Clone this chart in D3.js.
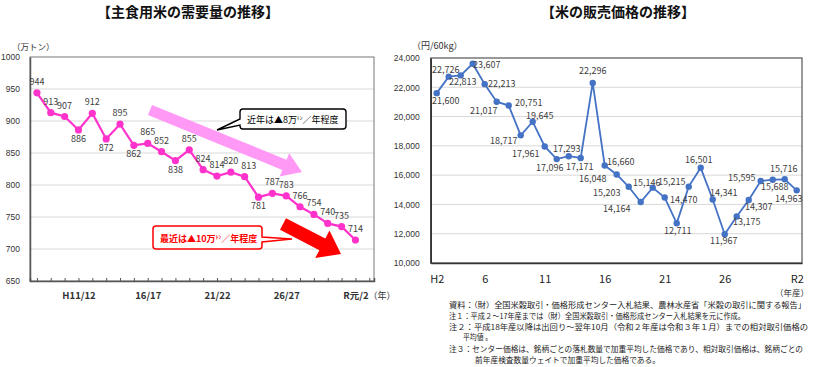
<!DOCTYPE html>
<html>
<head>
<meta charset="UTF-8" />
<script src="https://d3js.org/d3.v7.min.js"></script>
<style>
  body { margin: 0; background: #fff; }
  svg { font-family: "Noto Sans CJK JP", "Noto Sans", sans-serif; }
  .title { font-size: 14px; font-weight: bold; fill: #111; }
  .grid line { stroke: #d9d9d9; stroke-width: 1px; }
  .ytick text { font-size: 8.5px; fill: #333; }
  .lbl { font-size: 9px; fill: #404040; }
  .note { font-size: 7.8px; fill: #222; }
</style>
</head>
<body>
<svg width="820" height="367"></svg>
<script>
// ---- 主食用米の需要量 (万トン), H8/9 .. R元/2
var demand = [944, 913, 907, 886, 912, 872, 895, 862, 865, 852, 838, 855,
              824, 814, 820, 813, 781, 787, 783, 766, 754, 740, 735, 714];
var demandTicks = [3, 8, 13, 18, 23];
var demandTickLabels = ["H11/12", "16/17", "21/22", "26/27", "R元/2"];
var demandBelow = [3, 5, 7, 10, 16]; // labels placed under the point

// ---- 米の販売価格 (円/60kg), H2 .. R2
var price = [21600, 22726, 22813, 23607, 22213, 21017, 20751, 18717, 19645,
             17961, 17096, 17293, 17171, 22296, 16660, 16048, 15203, 14164,
             15146, 14470, 12711, 15215, 16501, 14341, 11967, 13175, 14307,
             15595, 15688, 15716, 14963];
var priceTicks = [0, 4, 9, 14, 19, 24, 30];
var priceTickLabels = ["H2", "6", "11", "16", "21", "26", "R2"];
// label offsets (dx, dy) from each point
var priceLabelOffset = [[9,8],[-3,-7],[2,7],[14,1],[17,0],[-13,9],[20,-3],[-17,6],
  [7,-6],[-19,8],[-7,9],[-2,-7],[-1,9],[0,-12],[16,-3],[-24,5],[-22,6],[-24,7],
  [-6,-5],[19,2],[1,8],[-17,-5],[-2,-8],[11,-6],[-1,7],[10,5],[10,7],[-19,-3],
  [2,7],[-1,-10],[-8,9]];

var notes = [
  {x: 449, w: 357, t: "資料：（財）全国米穀取引・価格形成センター入札結果、農林水産省「米穀の取引に関する報告」"},
  {x: 449, w: 296, t: "注１：平成２～17年産までは（財）全国米穀取引・価格形成センター入札結果を元に作成。"},
  {x: 449, w: 359, t: "注２：平成18年産以降は出回り～翌年10月（令和２年産は令和３年１月）までの相対取引価格の"},
  {x: 463, w: 29, t: "平均値 。"},
  {x: 449, w: 354, t: "注３：センター価格は、銘柄ごとの落札数量で加重平均した価格であり、相対取引価格は、銘柄ごとの"},
  {x: 475, w: 185, t: "前年産検査数量ウェイトで加重平均した価格である。"}
];

var svg = d3.select("svg");

function arrow(x1, y1, x2, y2, sw, hw, hl) {
  var a = Math.atan2(y2 - y1, x2 - x1), L = Math.hypot(x2 - x1, y2 - y1);
  var c = Math.cos(a), s = Math.sin(a);
  var pts = [[0, -sw/2], [L - hl, -sw/2], [L - hl, -hw/2], [L, 0], [L - hl, hw/2], [L - hl, sw/2], [0, sw/2]];
  return pts.map(function (p) { return [x1 + p[0]*c - p[1]*s, y1 + p[0]*s + p[1]*c]; });
}

// =============== left chart ===============
var L = {left: 30, right: 374, top: 57, bottom: 281};
var xL = d3.scaleLinear().domain([-0.5, 24.34]).range([L.left, L.right]);
var yL = d3.scaleLinear().domain([650, 1000]).range([L.bottom, L.top]);

svg.append("text").attr("class", "title").attr("x", 188).attr("y", 17)
  .attr("text-anchor", "middle").text("【主食用米の需要量の推移】");
svg.append("text").attr("x", 12).attr("y", 50).style("font-size", "8.5px").attr("fill", "#333").text("（万トン）");

svg.append("g").attr("class", "grid")
  .selectAll("line").data(d3.range(700, 1000, 50)).join("line")
  .attr("x1", L.left).attr("x2", L.right).attr("y1", yL).attr("y2", yL);
svg.append("rect").attr("x", L.left).attr("y", L.top).attr("width", L.right - L.left)
  .attr("height", L.bottom - L.top).attr("fill", "none").attr("stroke", "#777").attr("stroke-width", 1);

var yAxL = svg.append("g").attr("class", "ytick").attr("transform", "translate(" + L.left + ",0)")
  .call(d3.axisLeft(yL).tickValues(d3.range(650, 1001, 50)).tickSize(0).tickPadding(10)
    .tickFormat(d3.format("d")));
yAxL.select(".domain").attr("stroke", "#555").attr("stroke-width", 1.5);

var xAxL = svg.append("g").attr("transform", "translate(0," + L.bottom + ")")
  .call(d3.axisBottom(xL).tickValues(d3.range(0, 25)).tickSize(-3).tickFormat(""));
xAxL.select(".domain").attr("stroke", "#555").attr("stroke-width", 1.5);
xAxL.selectAll(".tick line").attr("stroke", "#555");

var xLabL = svg.append("g").attr("transform", "translate(0," + L.bottom + ")")
  .call(d3.axisBottom(xL).tickValues(demandTicks).tickSize(0).tickPadding(11)
    .tickFormat(function (d, i) { return demandTickLabels[i]; }));
xLabL.select(".domain").remove();
xLabL.selectAll("text").style("font-size", "9.5px").style("font-weight", "bold").attr("fill", "#333")
  .style("font-family", "'Noto Sans CJK JP', sans-serif");
svg.append("text").attr("x", xL(23) + 13).attr("y", L.bottom + 18).style("font-size", "9px")
  .attr("fill", "#333").text("（年）");

// pink and red arrows
svg.append("polygon").attr("fill", "#ff99f5")
  .attr("points", arrow(150, 110, 302, 172, 11, 25, 19).join(" "));
svg.append("polygon").attr("fill", "#ff0000")
  .attr("points", arrow(283, 224, 341, 254, 13, 31, 21).join(" "));

// line
svg.append("path").datum(demand).attr("fill", "none").attr("stroke", "#ff33cc").attr("stroke-width", 2.2)
  .attr("d", d3.line().x(function (d, i) { return xL(i); }).y(function (d) { return yL(d); }));
svg.append("g").selectAll("circle").data(demand).join("circle")
  .attr("cx", function (d, i) { return xL(i); }).attr("cy", yL).attr("r", 3.6).attr("fill", "#ff33cc");
svg.append("g").selectAll("text").data(demand).join("text").attr("class", "lbl")
  .attr("text-anchor", "middle")
  .attr("x", function (d, i) { return xL(i) + (i === 15 ? 4 : 0); })
  .attr("y", function (d, i) { return yL(d) + (demandBelow.indexOf(i) >= 0 ? 12 : -8); })
  .text(function (d) { return d; });

// callouts
svg.append("path")
  .attr("d", "M243,109 H343 Q346,109 346,112 V126 Q346,129 343,129 H243 Q240,129 240,126 V125 L217,130 L240,119 V112 Q240,109 243,109 Z")
  .attr("fill", "#fff").attr("stroke", "#000").attr("stroke-width", 1.4);
var t1 = svg.append("text").attr("x", 247).attr("y", 123).style("font-size", "9px").attr("fill", "#000");
t1.append("tspan").text("近年は▲8万");
t1.append("tspan").style("font-size", "5.5px").attr("dy", -3).text("ﾄﾝ");
t1.append("tspan").attr("dy", 3).text("／年程度");

svg.append("path")
  .attr("d", "M156,226 H259 Q262,226 262,229 V237 L292,239 L262,242 V246 Q262,249 259,249 H156 Q153,249 153,246 V229 Q153,226 156,226 Z")
  .attr("fill", "#fff").attr("stroke", "#ff0000").attr("stroke-width", 1.5);
var t2 = svg.append("text").attr("x", 160).attr("y", 241.5).style("font-size", "9px")
  .style("font-weight", "bold").attr("fill", "#ff0000");
t2.append("tspan").text("最近は▲10万");
t2.append("tspan").style("font-size", "5.5px").attr("dy", -3).text("ﾄﾝ");
t2.append("tspan").attr("dy", 3).text("／年程度");

// =============== right chart ===============
var R = {left: 430.7, right: 802, top: 58, bottom: 263};
var xR = d3.scaleLinear().domain([-0.5, 30.44]).range([R.left, R.right]);
var yR = d3.scaleLinear().domain([10000, 24000]).range([R.bottom, R.top]);

svg.append("text").attr("class", "title").attr("x", 618).attr("y", 17)
  .attr("text-anchor", "middle").text("【米の販売価格の推移】");
svg.append("text").attr("x", 412).attr("y", 49).style("font-size", "9px").attr("fill", "#333").text("（円/60kg）");

svg.append("g").attr("class", "grid")
  .selectAll("line").data(d3.range(12000, 24000, 2000)).join("line")
  .attr("x1", R.left).attr("x2", R.right).attr("y1", yR).attr("y2", yR);
svg.append("rect").attr("x", R.left).attr("y", R.top).attr("width", R.right - R.left)
  .attr("height", R.bottom - R.top).attr("fill", "none").attr("stroke", "#555").attr("stroke-width", 1.2);

var yAxR = svg.append("g").attr("class", "ytick").attr("transform", "translate(" + R.left + ",0)")
  .call(d3.axisLeft(yR).tickValues(d3.range(10000, 24001, 2000)).tickSize(0).tickPadding(11)
    .tickFormat(d3.format(",")));
yAxR.select(".domain").attr("stroke", "#333").attr("stroke-width", 1.6);
var xAxR = svg.append("g").attr("transform", "translate(0," + R.bottom + ")")
  .call(d3.axisBottom(xR).tickValues(priceTicks).tickSize(0).tickPadding(12)
    .tickFormat(function (d, i) { return priceTickLabels[i]; }));
xAxR.select(".domain").attr("stroke", "#333").attr("stroke-width", 1.6);
xAxR.selectAll("text").style("font-size", "11px").attr("fill", "#222")
  .style("font-family", "'Noto Sans CJK JP', sans-serif");
svg.append("text").attr("x", 792).attr("y", 296).attr("text-anchor", "middle")
  .style("font-size", "8.5px").attr("fill", "#333").text("（年産）");

svg.append("path").datum(price).attr("fill", "none").attr("stroke", "#4472c4").attr("stroke-width", 1.8)
  .attr("d", d3.line().x(function (d, i) { return xR(i); }).y(function (d) { return yR(d); }));
svg.append("g").selectAll("circle").data(price).join("circle")
  .attr("cx", function (d, i) { return xR(i); }).attr("cy", yR).attr("r", 3.2).attr("fill", "#4472c4");
svg.append("g").selectAll("text").data(price).join("text").attr("class", "lbl")
  .attr("text-anchor", "middle")
  .attr("x", function (d, i) { return xR(i) + priceLabelOffset[i][0]; })
  .attr("y", function (d, i) { return yR(d) + priceLabelOffset[i][1] + 3; })
  .text(d3.format(","));

// notes
svg.append("g").selectAll("text").data(notes).join("text").attr("class", "note")
  .attr("x", function (d) { return d.x; })
  .attr("y", function (d, i) { return [308, 318.5, 329.5, 340, 351.5, 363][i]; })
  .attr("textLength", function (d) { return d.w; })
  .attr("lengthAdjust", "spacingAndGlyphs")
  .text(function (d) { return d.t; });
</script>
</body>
</html>
